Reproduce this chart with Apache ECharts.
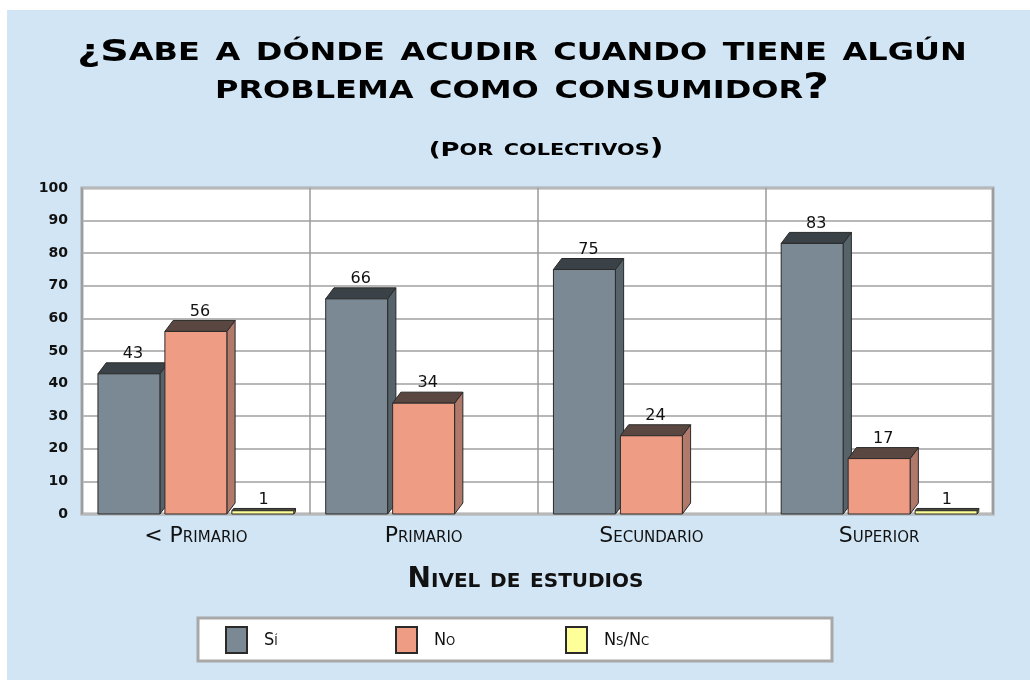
<!DOCTYPE html>
<html>
<head>
<meta charset="utf-8">
<script src="https://cdn.jsdelivr.net/npm/echarts@6/dist/echarts.min.js"></script>
<style>
  html, body { margin: 0; padding: 0; background: #fff; }
  #main { width: 1030px; height: 680px; }
</style>
</head>
<body>
<div id="main"></div>
<script>
// Nivel de estudios
var categories = ['< Primario', 'Primario', 'Secundario', 'Superior'];
var seriesNames = ['Sí', 'No', 'Ns/Nc'];
var si = [43, 66, 75, 83];
var no = [56, 34, 24, 17];
var nsnc = [1, 0, 0, 1];
var yTicks = [0, 10, 20, 30, 40, 50, 60, 70, 80, 90, 100];

var myChart = echarts.init(document.getElementById('main'));

var faces = [
    { front: '#7a8993', top: '#3b4247', side: '#56636b' },
    { front: '#ee9c84', top: '#5a4741', side: '#b0796a' },
    { front: '#ffff99', top: '#4a4a3c', side: '#a3a360' }
];

function makeRender(idx) {
    return function (params, api) {
        var val = api.value(1);
        if (!val) return;
        var base = api.coord([api.value(0), 0]);
        var top = api.coord([api.value(0), val]);
        var band = api.size([1, 0])[0];
        var w = band * 0.272, gap = band * 0.022;
        var x0 = base[0] + (idx - 1) * (w + gap) - w / 2;
        var y0 = top[1], yb = base[1];
        // depth gets flatter for very short bars
        var dy = Math.min(11, (yb - y0) * 0.7);
        var dx = dy * 0.75;
        var c = faces[idx];
        return {
            type: 'group',
            children: [
                { type: 'polygon', shape: { points: [[x0 + w, y0], [x0 + w + dx, y0 - dy], [x0 + w + dx, yb - dy], [x0 + w, yb]] },
                  style: { fill: c.side, stroke: '#2a2a2a', lineWidth: 1 } },
                { type: 'polygon', shape: { points: [[x0, y0], [x0 + dx, y0 - dy], [x0 + w + dx, y0 - dy], [x0 + w, y0]] },
                  style: { fill: c.top, stroke: '#2a2a2a', lineWidth: 1 } },
                { type: 'rect', shape: { x: x0, y: y0, width: w, height: yb - y0 },
                  style: { fill: c.front, stroke: '#2a2a2a', lineWidth: 1 } },
                { type: 'text', x: x0 + w / 2 + dx / 2, y: y0 - dy - 1,
                  style: { text: String(val), fill: '#111', font: '16px "DejaVu Sans"', align: 'center', verticalAlign: 'bottom' } }
            ]
        };
    };
}

var allValues = [si, no, nsnc];
var series = allValues.map(function (vals, i) {
    return {
        name: seriesNames[i],
        type: 'custom',
        renderItem: makeRender(i),
        itemStyle: { color: faces[i].front, borderColor: '#2a2a2a', borderWidth: 1 },
        encode: { x: 0, y: 1 },
        data: vals.map(function (v, j) { return [j, v]; })
    };
});

var legendLeft = [225, 395, 565];
var legends = seriesNames.map(function (n, i) {
    return {
        data: [n],
        left: legendLeft[i],
        top: 626,
        padding: 0,
        icon: 'rect',
        itemWidth: 21,
        itemHeight: 26,
        selectedMode: false,
        textStyle: { fontFamily: 'DejaVu Sans Condensed', fontStyle: 'small-caps', fontSize: 18, color: '#111', padding: [0, 0, 0, 12] }
    };
});

// wide small-caps lettering like the original
var capFont = { fontFamily: 'DejaVu Sans', fontWeight: 'bold', color: '#111', verticalAlign: 'bottom' };
function rs(extra) { return Object.assign({}, capFont, extra); }

var option = {
    backgroundColor: '#fff',
    graphic: [
        { type: 'rect', z: -10, shape: { x: 7, y: 10, width: 1023, height: 670 }, style: { fill: '#d1e5f4' } },
        { type: 'rect', z: -5, shape: { x: 198, y: 618, width: 634, height: 43 }, style: { fill: '#fff', stroke: '#a8a8a8', lineWidth: 3 } },
        {
            type: 'text', x: 522, y: 68, scaleX: 1.28,
            style: {
                text: '{a|¿S}{b|abe a dónde acudir cuando tiene algún}\n{b|problema como consumidor?}',
                align: 'center', verticalAlign: 'middle',
                rich: {
                    a: rs({ fontSize: 31, lineHeight: 38 }),
                    b: rs({ fontStyle: 'small-caps', fontSize: 35, lineHeight: 38 })
                }
            }
        },
        {
            type: 'text', x: 546, y: 148, scaleX: 1.3,
            style: {
                text: '{a|(P}{b|or colectivos)}',
                align: 'center', verticalAlign: 'middle',
                rich: {
                    a: rs({ fontSize: 20, lineHeight: 26 }),
                    b: rs({ fontStyle: 'small-caps', fontSize: 23, lineHeight: 26 })
                }
            }
        }
    ],
    legend: legends,
    grid: {
        left: 82, right: 37, top: 188, bottom: 166,
        show: true, backgroundColor: '#fff', borderColor: '#a8a8a8', borderWidth: 3
    },
    xAxis: {
        type: 'category',
        data: categories,
        axisTick: { show: false },
        axisLine: { show: false },
        splitLine: { show: true, lineStyle: { color: '#9a9a9a', width: 1.5 } },
        axisLabel: { margin: 11, fontFamily: 'DejaVu Sans', fontStyle: 'small-caps', fontSize: 22, color: '#111', interval: 0 },
        name: 'Nivel de estudios',
        nameLocation: 'middle',
        nameGap: 52,
        nameTextStyle: { fontFamily: 'DejaVu Sans', fontWeight: 'bold', fontStyle: 'small-caps', fontSize: 28, color: '#111', padding: [0, 24, 0, 0] }
    },
    yAxis: {
        type: 'value',
        min: yTicks[0], max: yTicks[yTicks.length - 1], interval: 10,
        axisLine: { show: false },
        axisTick: { show: false },
        splitLine: { lineStyle: { color: '#b8b8b8', width: 2 } },
        axisLabel: { margin: 14, fontFamily: 'DejaVu Sans', fontWeight: 'bold', fontSize: 14, color: '#111' }
    },
    series: series
};

myChart.setOption(option);
</script>
</body>
</html>
